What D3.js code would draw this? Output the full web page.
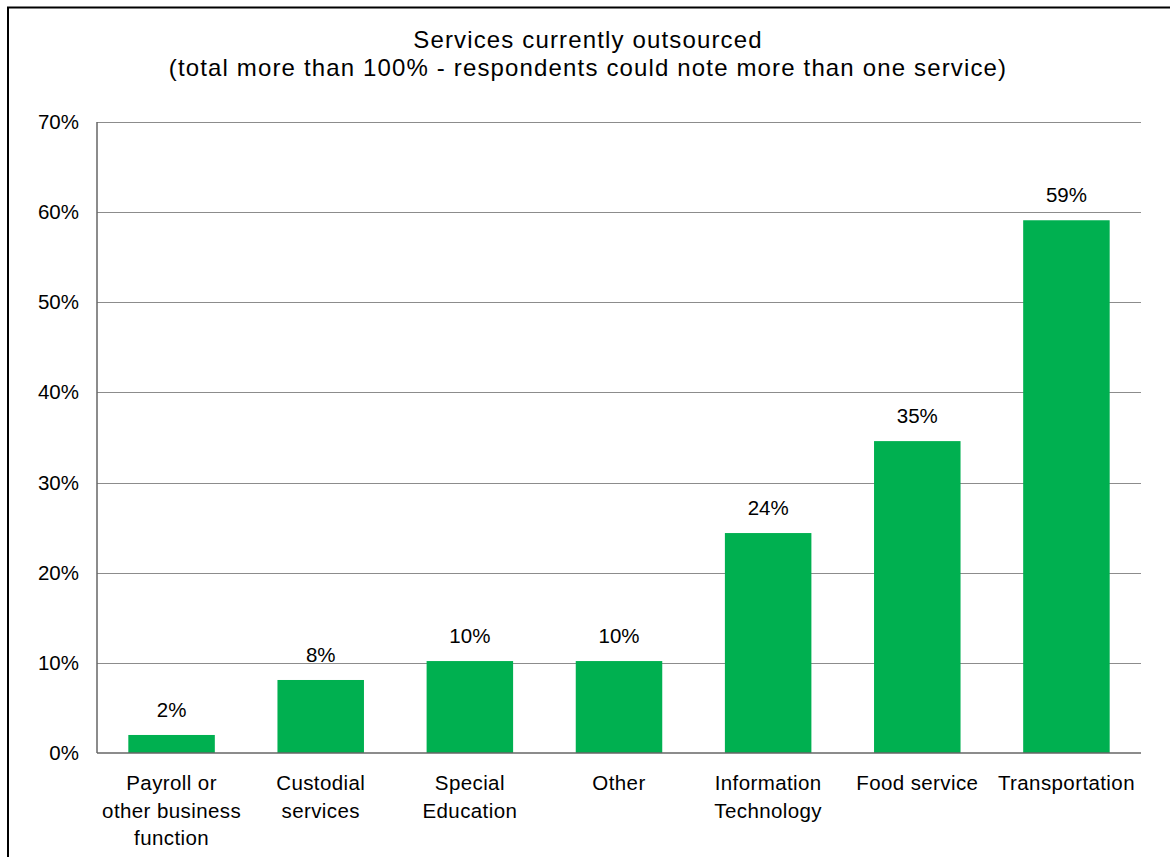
<!DOCTYPE html>
<html>
<head>
<meta charset="utf-8">
<script src="https://cdn.jsdelivr.net/npm/d3@7"></script>
<style>
  html, body { margin: 0; padding: 0; background: #fff; }
  svg { display: block; font-family: "Liberation Sans", Arial, Helvetica, sans-serif; }
</style>
</head>
<body>
<svg id="chart" width="1170" height="857"></svg>
<script>
// Share of respondents outsourcing each service
const categories = [
  "Payroll or\nother business\nfunction",
  "Custodial\nservices",
  "Special\nEducation",
  "Other",
  "Information\nTechnology",
  "Food service",
  "Transportation"
];
const values = [0.020, 0.081, 0.102, 0.102, 0.244, 0.346, 0.591];
const yTicks = [0, 0.1, 0.2, 0.3, 0.4, 0.5, 0.6, 0.7];
const titleLines = [
  "Services currently outsourced",
  "(total more than 100% - respondents could note more than one service)"
];

const svg = d3.select("#chart");
const plotLeft = 97, plotRight = 1141, plotTop = 122, plotBottom = 753;
const barColor = "#00b050";
const pct = d3.format(".0%");

// outer frame
svg.append("rect")
  .attr("x", 8).attr("y", 7.5)
  .attr("width", 1200).attr("height", 900)
  .attr("fill", "none").attr("stroke", "#000").attr("stroke-width", 2);

const x = d3.scaleBand()
  .domain(categories)
  .range([plotLeft, plotRight])
  .paddingInner(0.42)
  .paddingOuter(0.21);

const y = d3.scaleLinear()
  .domain([0, 0.7])
  .range([plotBottom, plotTop]);

// gridlines + y labels
const yAxis = d3.axisLeft(y)
  .tickValues(yTicks)
  .tickFormat(pct)
  .tickSizeInner(0)
  .tickSizeOuter(0)
  .tickPadding(18);

const gy = svg.append("g")
  .attr("transform", `translate(${plotLeft},0)`)
  .call(yAxis);
gy.select(".domain").remove();
gy.selectAll(".tick text")
  .attr("fill", "#000")
  .attr("font-size", 20.5)
  .attr("font-family", "Liberation Sans, Arial, sans-serif");
gy.selectAll(".tick")
  .filter(d => d > 0)
  .append("line")
  .attr("x1", 0).attr("x2", plotRight - plotLeft)
  .attr("stroke", "#8c8c8c").attr("stroke-width", 1)
  .attr("shape-rendering", "crispEdges");

// bars
svg.append("g").selectAll("rect")
  .data(values)
  .join("rect")
  .attr("x", (d, i) => x(categories[i]))
  .attr("width", x.bandwidth())
  .attr("y", d => y(d))
  .attr("height", d => y(0) - y(d))
  .attr("fill", barColor);

// value labels
svg.append("g").selectAll("text")
  .data(values)
  .join("text")
  .attr("x", (d, i) => x(categories[i]) + x.bandwidth() / 2)
  .attr("y", d => y(d) - 18)
  .attr("text-anchor", "middle")
  .attr("font-size", 20.5)
  .attr("fill", "#000")
  .text(d => pct(d));

// axis lines
svg.append("line")
  .attr("x1", plotLeft).attr("x2", plotLeft)
  .attr("y1", plotTop).attr("y2", plotBottom)
  .attr("stroke", "#666").attr("stroke-width", 1.5);
svg.append("line")
  .attr("x1", plotLeft).attr("x2", plotRight)
  .attr("y1", plotBottom).attr("y2", plotBottom)
  .attr("stroke", "#666").attr("stroke-width", 1.5);

// category labels
const xAxis = d3.axisBottom(x).tickSize(0).tickFormat("");
const gx = svg.append("g")
  .attr("transform", `translate(0,${plotBottom})`)
  .call(xAxis);
gx.select(".domain").remove();
gx.selectAll(".tick").each(function(d) {
  const t = d3.select(this).append("text")
    .attr("text-anchor", "middle")
    .attr("font-size", 20.5)
    .attr("letter-spacing", 0.4)
    .attr("font-family", "Liberation Sans, Arial, sans-serif")
    .attr("fill", "#000");
  d.split("\n").forEach((line, i) => {
    t.append("tspan")
      .attr("x", 0)
      .attr("y", 37 + i * 27.5)
      .text(line);
  });
});

// title
const title = svg.append("text")
  .attr("text-anchor", "middle")
  .attr("font-size", 24)
  .attr("letter-spacing", 1.15)
  .attr("fill", "#000");
titleLines.forEach((line, i) => {
  title.append("tspan")
    .attr("x", 588)
    .attr("y", 48 + i * 28)
    .text(line);
});
</script>
</body>
</html>
